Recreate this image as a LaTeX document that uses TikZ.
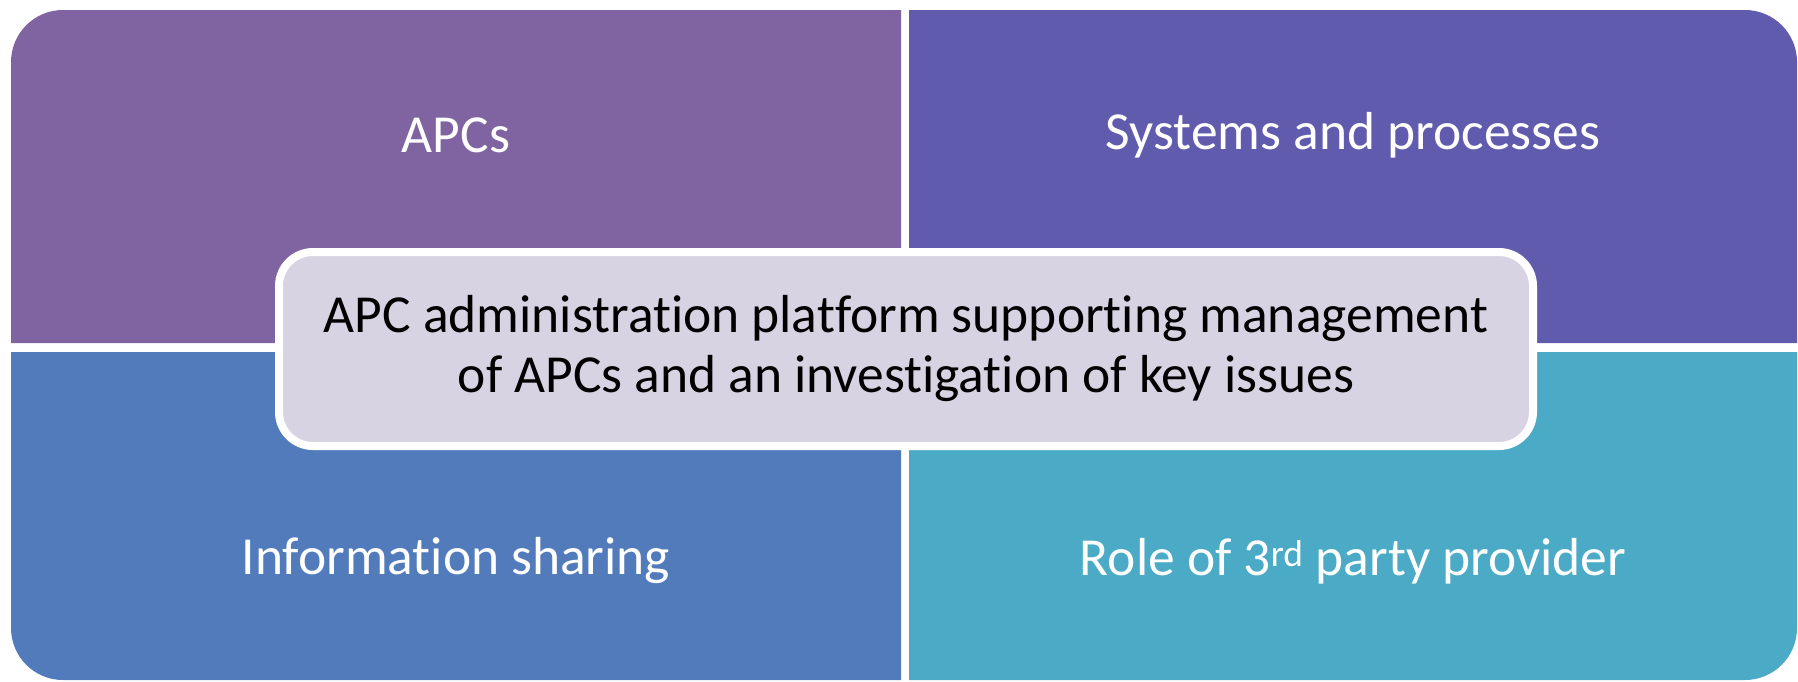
\documentclass[tikz,border=0pt]{standalone}
\usepackage{fontspec}
\setmainfont[Ligatures=CommonOff]{Carlito}
\definecolor{apcpurple}{RGB}{128,100,162}
\definecolor{apcindigo}{RGB}{96,91,173}
\definecolor{apcblue}{RGB}{82,123,188}
\definecolor{apcteal}{RGB}{75,171,198}
\definecolor{apclilac}{RGB}{216,211,226}
\begin{document}
\begin{tikzpicture}[
	x=1pt,y=-1pt,
	font=\fontsize{53.5}{60}\selectfont,
	quad/.style={text=white},
	hub/.style={fill=apclilac,draw=white,line width=8pt,rounded corners=34pt,
		minimum width=1254pt,minimum height=194pt,align=center,text=black},
	]
\useasboundingbox (0,0) rectangle (1798,681);
% quadrants, one rounded outer corner each
\fill[apcpurple] (11,343) -- (11,180) [rounded corners=52pt] -- (11,10) -- (456,10) [sharp corners] -- (901,10) -- (901,343) -- cycle;
\fill[apcindigo] (909,343) -- (909,10) -- (1353,10) [rounded corners=52pt] -- (1797,10) -- (1797,180) [sharp corners] -- (1797,343) -- cycle;
\fill[apcblue] (901,352) -- (901,680) -- (456,680) [rounded corners=52pt] -- (11,680) -- (11,516) [sharp corners] -- (11,352) -- cycle;
\fill[apcteal] (909,352) -- (1797,352) -- (1797,516) [rounded corners=52pt] -- (1797,680) -- (1353,680) [sharp corners] -- (909,680) -- cycle;
% labels
\node[quad] (apcs) at (456,135) {APCs};
\node[quad] (systems) at (1353,135) {Systems and processes};
\node[quad] (sharing) at (456,561) {Information sharing};
\node[quad] (provider) at (1353,561) {Role of 3\textsuperscript{rd} party provider};
% centre
\node[hub] (platform) at (906,349) {APC administration platform supporting management\\of APCs and an investigation of key issues};
\end{tikzpicture}
\end{document}
